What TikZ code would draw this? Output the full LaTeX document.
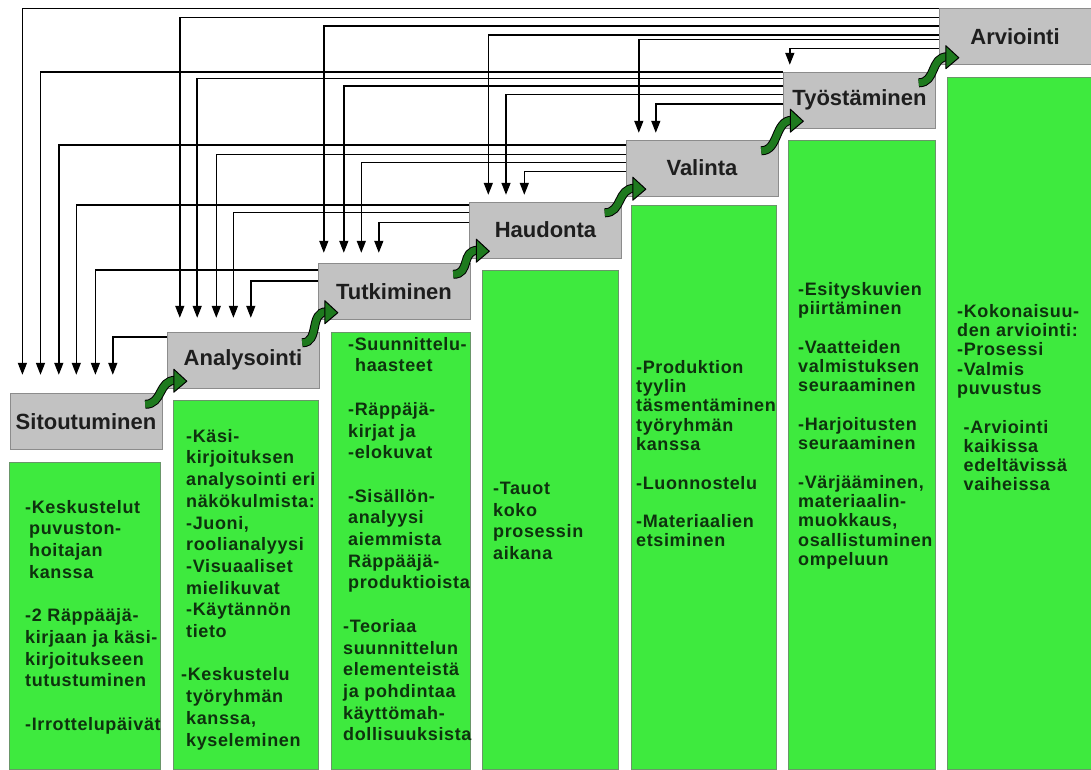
\documentclass[tikz,border=0pt]{standalone}
\usepackage{fontspec}
\setmainfont{Liberation Sans}
\newfontfamily\notefont[LetterSpace=3.5]{Liberation Sans}
\usetikzlibrary{calc}
\usetikzlibrary{arrows.meta}
\definecolor{stagegray}{RGB}{194,194,194}
\definecolor{stageline}{RGB}{140,140,140}
\definecolor{stagefg}{RGB}{30,30,30}
\definecolor{notegreen}{RGB}{62,234,62}
\definecolor{noteline}{RGB}{105,150,105}
\definecolor{notefg}{RGB}{14,50,14}
\definecolor{arrowgreen}{RGB}{30,122,30}

\begin{document}
\begin{tikzpicture}
	[
		x = 1pt, y = -1pt,
		stagebox/.style = {rectangle, minimum width = 152pt, minimum height = 56pt, inner sep = 0pt, fill = stagegray, draw = stageline, text = stagefg, font = \bfseries\fontsize{22}{26}\selectfont},
		notebox/.style = {rectangle, anchor = north west, inner sep = 0pt, fill = notegreen, draw = noteline},
		notetext/.style = {anchor = north west, inner sep = 0pt, align = left, text = notefg, font = \notefont\bfseries\fontsize{18}{21.7}\selectfont},
		notetextb/.style = {notetext, font = \notefont\bfseries\fontsize{18}{19.3}\selectfont},
		backline/.style = {-{Triangle[width = 9pt, length = 12pt]}, line width = 1.5pt, draw = black},
		curlarrow/.style = {double = arrowgreen, double distance = 7pt, line width = 1pt, draw = black},
		curlhead/.style = {fill = arrowgreen, draw = black, line width = 1pt, line join = round},
	]
	\useasboundingbox (0,0) rectangle (1091,769);

	% stages
	\node (sit) [stagebox] at (86,421.5) {Sitoutuminen};
	\node (ana) [stagebox] at (243,360) {Analysointi};
	\node (tut) [stagebox] at (394,291.5) {Tutkiminen};
	\node (hau) [stagebox] at (545.5,230) {Haudonta};
	\node (val) [stagebox] at (702,168) {Valinta};
	\node (tyo) [stagebox] at (859.5,100) {Työstäminen};
	\node (arv) [stagebox] at (1015,36.5) {Arviointi};

	% green columns
	\node (sitnote) [notebox, minimum width = 151pt, minimum height = 307pt] at (9,462) {};
	\node (ananote) [notebox, minimum width = 145pt, minimum height = 369pt] at (173,400) {};
	\node (tutnote) [notebox, minimum width = 139pt, minimum height = 437pt] at (331,332) {};
	\node (haunote) [notebox, minimum width = 136pt, minimum height = 499pt] at (482,270) {};
	\node (valnote) [notebox, minimum width = 145pt, minimum height = 564pt] at (631,205) {};
	\node (tyonote) [notebox, minimum width = 147pt, minimum height = 629pt] at (788,140) {};
	\node (arvnote) [notebox, minimum width = 144pt, minimum height = 692pt] at (947,77) {};

	\node (sittext) [notetext] at (25,500) {-Keskustelut\\ \hspace*{4pt}puvuston-\\ \hspace*{4pt}hoitajan\\ \hspace*{4pt}kanssa\\[\baselineskip] -2 Räppääjä-\\ kirjaan ja käsi-\\ kirjoitukseen\\ tutustuminen\\[\baselineskip] -Irrottelupäivät};
	\node (anatext) [notetext] at (186,429) {-Käsi-\\ kirjoituksen\\ analysointi eri\\ näkökulmista:\\ -Juoni,\\ roolianalyysi\\ -Visuaaliset\\ mielikuvat\\ -Käytännön\\ tieto\\[\baselineskip] \hspace*{-5pt}-Keskustelu\\ työryhmän\\ kanssa,\\ kyseleminen};
	\node (tuttext) [notetext] at (348,337) {-Suunnittelu-\\ \hspace*{7pt}haasteet\\[\baselineskip] -Räppäjä-\\ kirjat ja\\ -elokuvat\\[\baselineskip] -Sisällön-\\ analyysi\\ aiemmista\\ Räppääjä-\\ produktioista\\[\baselineskip] \hspace*{-5pt}-Teoriaa\\ \hspace*{-5pt}suunnittelun\\ \hspace*{-5pt}elementeistä\\ \hspace*{-5pt}ja pohdintaa\\ \hspace*{-5pt}käyttömah-\\ \hspace*{-5pt}dollisuuksista};
	\node (hautext) [notetext] at (493,482) {-Tauot\\ koko\\ prosessin\\ aikana};
	\node (valtext) [notetextb] at (636,360) {-Produktion\\ tyylin\\ täsmentäminen\\ työryhmän\\ kanssa\\[\baselineskip] -Luonnostelu\\[\baselineskip] -Materiaalien\\ etsiminen};
	\node (tyotext) [notetextb] at (798,282) {-Esityskuvien\\ piirtäminen\\[\baselineskip] -Vaatteiden\\ valmistuksen\\ seuraaminen\\[\baselineskip] -Harjoitusten\\ seuraaminen\\[\baselineskip] -Värjääminen,\\ materiaalin-\\ muokkaus,\\ osallistuminen\\ ompeluun};
	\node (arvtext) [notetextb] at (957,304) {-Kokonaisuu-\\ den arviointi:\\ -Prosessi\\ -Valmis\\ puvustus\\[\baselineskip] \hspace*{6.5pt}-Arviointi\\ \hspace*{6.5pt}kaikissa\\ \hspace*{6.5pt}edeltävissä\\ \hspace*{6.5pt}vaiheissa};

	% feedback to every earlier stage
	\foreach \src/\dy/\dst/\dx/\gp in {arv/0/sit/12.6/18.5, arv/9/ana/13/14, arv/17.5/tut/6/10.5, arv/26.5/hau/19/7, arv/31/val/13/7, arv/40/tyo/6.5/7,
		tyo/0/sit/30.7/18.5, tyo/6.5/ana/30.4/14, tyo/14/tut/26/10.5, tyo/22.5/hau/36.7/7, tyo/32/val/30/7,
		val/5/sit/49/18.5, val/14.5/ana/49.5/14, val/22.5/tut/43.5/10.5, val/31.5/hau/55/7,
		hau/3/sit/66.5/18.5, hau/10.5/ana/66.6/14, hau/20.5/tut/61/10.5,
		tut/6.5/sit/85.6/18.5, tut/17.5/ana/84/14,
		ana/5/sit/103/18.5}
		\draw [backline] ($(\src.north west)+(0,\dy)$) -| ($(\dst.north west)+(\dx,-\gp)$);

	% curly arrows between stages
	\foreach \low/\high in {sit/ana, ana/tut, tut/hau, hau/val, val/tyo, tyo/arv}
	{
		\draw [curlarrow] ($(\low.north east)+(-17,11)$) .. controls +(18,0) and +(-18,0) .. ($(\high.south west)+(9,-8)$);
		\filldraw [curlhead] ($(\high.south west)+(7,-19)$) -- ($(\high.south west)+(20,-7)$) -- ($(\high.south west)+(7,4)$) -- cycle;
	}
\end{tikzpicture}
\end{document}
